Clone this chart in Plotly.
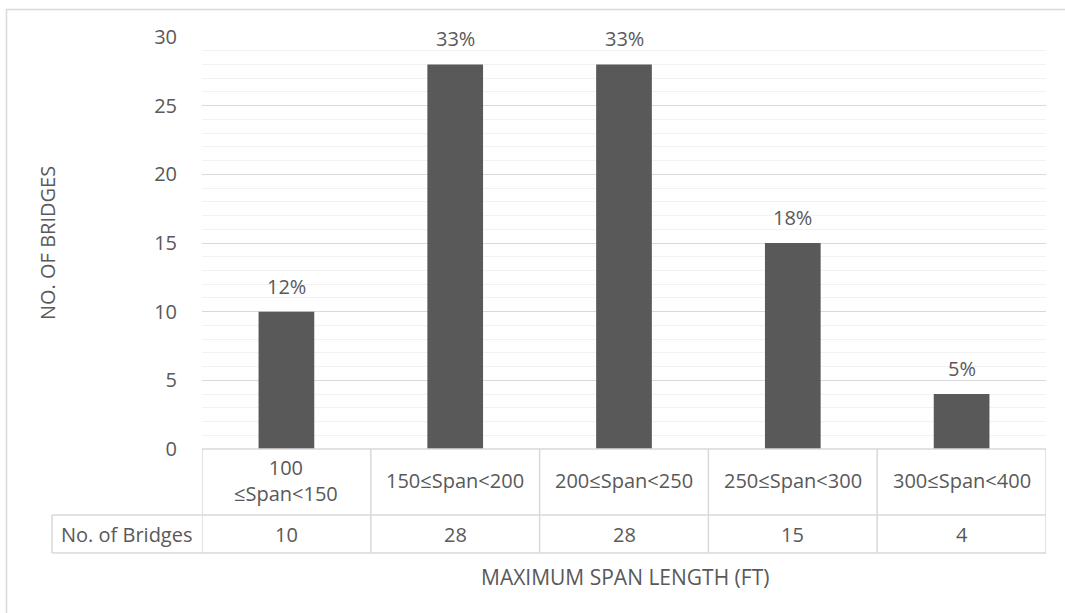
import plotly.graph_objects as go

# Span-length bins and bridge counts
categories = ["100≤Span<150", "150≤Span<200", "200≤Span<250", "250≤Span<300", "300≤Span<400"]
category_labels = ["100<br>≤Span<150", "150≤Span<200", "200≤Span<250", "250≤Span<300", "300≤Span<400"]
bridges = [10, 28, 28, 15, 4]
y_ticks = [0, 5, 10, 15, 20, 25, 30]
row_header = "No. of Bridges"

total = sum(bridges)
pct_labels = [f"{round(v / total * 100)}%" for v in bridges]

W, H = 1065, 613
FONT = "Open Sans"
TXT = "#595959"
LINE = "#d9d9d9"


def px(x):
    return x / W


def py(y):
    return 1 - y / H


# plot-area / table geometry (pixels)
X0, X1 = 202, 1046
Y_TOP, Y_BASE = 37, 449
ROW1, ROW2 = 515, 553
HDR_X = 52

fig = go.Figure()
fig.add_trace(go.Bar(
    x=categories,
    y=bridges,
    width=0.33,
    marker=dict(color="#595959", line=dict(width=0)),
    hoverinfo="skip",
))

annotations = []
# value labels above the bars
for c, v, t in zip(categories, bridges, pct_labels):
    annotations.append(dict(
        x=c, y=v, xref="x", yref="y", text=t, showarrow=False,
        yanchor="bottom", yshift=10,
        font=dict(family=FONT, size=20, color=TXT),
    ))

# data table text
for c, lab, v in zip(categories, category_labels, bridges):
    annotations.append(dict(
        x=c, y=py((Y_BASE + ROW1) / 2 - 1), xref="x", yref="paper", text=lab,
        showarrow=False, yanchor="middle",
        font=dict(family=FONT, size=20, color=TXT),
    ))
    annotations.append(dict(
        x=c, y=py((ROW1 + ROW2) / 2), xref="x", yref="paper", text=str(v),
        showarrow=False, yanchor="middle",
        font=dict(family=FONT, size=20, color=TXT),
    ))
annotations.append(dict(
    x=px((HDR_X + X0) / 2), y=py((ROW1 + ROW2) / 2), xref="paper", yref="paper",
    text=row_header, showarrow=False, xanchor="center", yanchor="middle",
    font=dict(family=FONT, size=20, color=TXT),
))

# axis titles
annotations.append(dict(
    x=px(625), y=py(577), xref="paper", yref="paper",
    text="MAXIMUM SPAN LENGTH (FT)", showarrow=False, yanchor="middle",
    font=dict(family=FONT, size=21, color=TXT),
))
annotations.append(dict(
    x=px(47), y=py(243), xref="paper", yref="paper",
    text="NO. OF BRIDGES", showarrow=False, textangle=-90,
    xanchor="center", yanchor="middle",
    font=dict(family=FONT, size=20, color=TXT),
))

shapes = []
tl = dict(color=LINE, width=1.5)
# table horizontal rules
shapes.append(dict(type="line", xref="paper", yref="paper",
                   x0=px(X0), x1=px(X1), y0=py(Y_BASE), y1=py(Y_BASE), line=tl))
for yy in (ROW1, ROW2):
    shapes.append(dict(type="line", xref="paper", yref="paper",
                       x0=px(HDR_X), x1=px(X1), y0=py(yy), y1=py(yy), line=tl))
# table vertical rules at category boundaries
for i in range(len(categories) + 1):
    shapes.append(dict(type="line", xref="x", yref="paper",
                       x0=i - 0.5, x1=i - 0.5, y0=py(Y_BASE), y1=py(ROW2), line=tl))
shapes.append(dict(type="line", xref="paper", yref="paper",
                   x0=px(HDR_X), x1=px(HDR_X), y0=py(ROW1), y1=py(ROW2), line=tl))
# chart-area frame (left and top edges)
shapes.append(dict(type="path", xref="paper", yref="paper",
                   path=f"M {px(6.5)},{py(H)} L {px(6.5)},{py(9.5)} L {px(W)},{py(9.5)}",
                   line=dict(color=LINE, width=1.5)))

fig.update_layout(
    width=W, height=H,
    margin=dict(l=0, r=0, t=0, b=0, autoexpand=False),
    paper_bgcolor="white", plot_bgcolor="white",
    showlegend=False,
    bargap=0.67,
    font=dict(family=FONT, size=20, color=TXT),
    xaxis=dict(
        domain=[px(X0), px(X1)],
        type="category", range=[-0.5, 4.5],
        showticklabels=False, showgrid=False, zeroline=False, showline=False,
        ticks="", automargin=False,
    ),
    yaxis=dict(
        domain=[py(Y_BASE), py(Y_TOP)],
        range=[0, 30], tickvals=y_ticks,
        showgrid=True, gridcolor=LINE, gridwidth=1,
        minor=dict(dtick=1, showgrid=True, gridcolor="#f2f2f2", gridwidth=1, ticks=""),
        zeroline=False, showline=False,
        ticks="outside", ticklen=20, tickcolor="rgba(0,0,0,0)",
        tickfont=dict(family=FONT, size=20, color=TXT),
        automargin=False,
    ),
    annotations=annotations,
    shapes=shapes,
)

fig.write_html("out.html")
